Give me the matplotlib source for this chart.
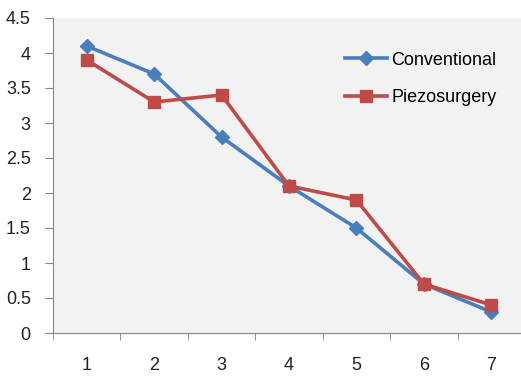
import matplotlib
matplotlib.use('Agg')
import matplotlib.pyplot as plt
from matplotlib.ticker import FixedLocator

# scores per time point
points = [1, 2, 3, 4, 5, 6, 7]
conventional = [4.1, 3.7, 2.8, 2.1, 1.5, 0.7, 0.3]
piezosurgery = [3.9, 3.3, 3.4, 2.1, 1.9, 0.7, 0.4]
y_ticks = [0, 0.5, 1, 1.5, 2, 2.5, 3, 3.5, 4, 4.5]
y_labels = ['0', '0.5', '1', '1.5', '2', '2.5', '3', '3.5', '4', '4.5']

plt.rcParams['font.family'] = ['Liberation Sans', 'DejaVu Sans']

fig = plt.figure(figsize=(5.21, 3.77), dpi=100)
ax = fig.add_axes([53/521, 44/377, 472/521, 315/377])
ax.set_facecolor('#f2f2f2')

ax.plot(points, conventional, color='#4a7ebb', lw=2.6, marker='D', ms=7,
        label='Conventional')
ax.plot(points, piezosurgery, color='#be4b48', lw=2.6, marker='s', ms=9,
        label='Piezosurgery')

ax.set_xlim(0.5, 7.5)
ax.set_ylim(0, 4.5)
ax.set_yticks(y_ticks)
ax.set_yticklabels(y_labels)
ax.set_xticks(points)
ax.xaxis.set_minor_locator(FixedLocator([p + 0.5 for p in range(0, 8)]))
ax.tick_params(axis='x', which='major', length=0, pad=17, labelsize=13,
               colors='#222222')
ax.tick_params(axis='x', which='minor', length=5, color='#868686')
ax.tick_params(axis='y', length=6, color='#868686', pad=10, labelsize=13,
               labelcolor='#222222')

for s in ['top', 'right']:
    ax.spines[s].set_visible(False)
for s in ['left', 'bottom']:
    ax.spines[s].set_color('#868686')

ax.legend(loc='upper left', bbox_to_anchor=(0.585, 0.945), frameon=False,
          fontsize=13, handlelength=2.3, labelspacing=1.15, handletextpad=0.25)

fig.savefig('out.png', dpi=100)
